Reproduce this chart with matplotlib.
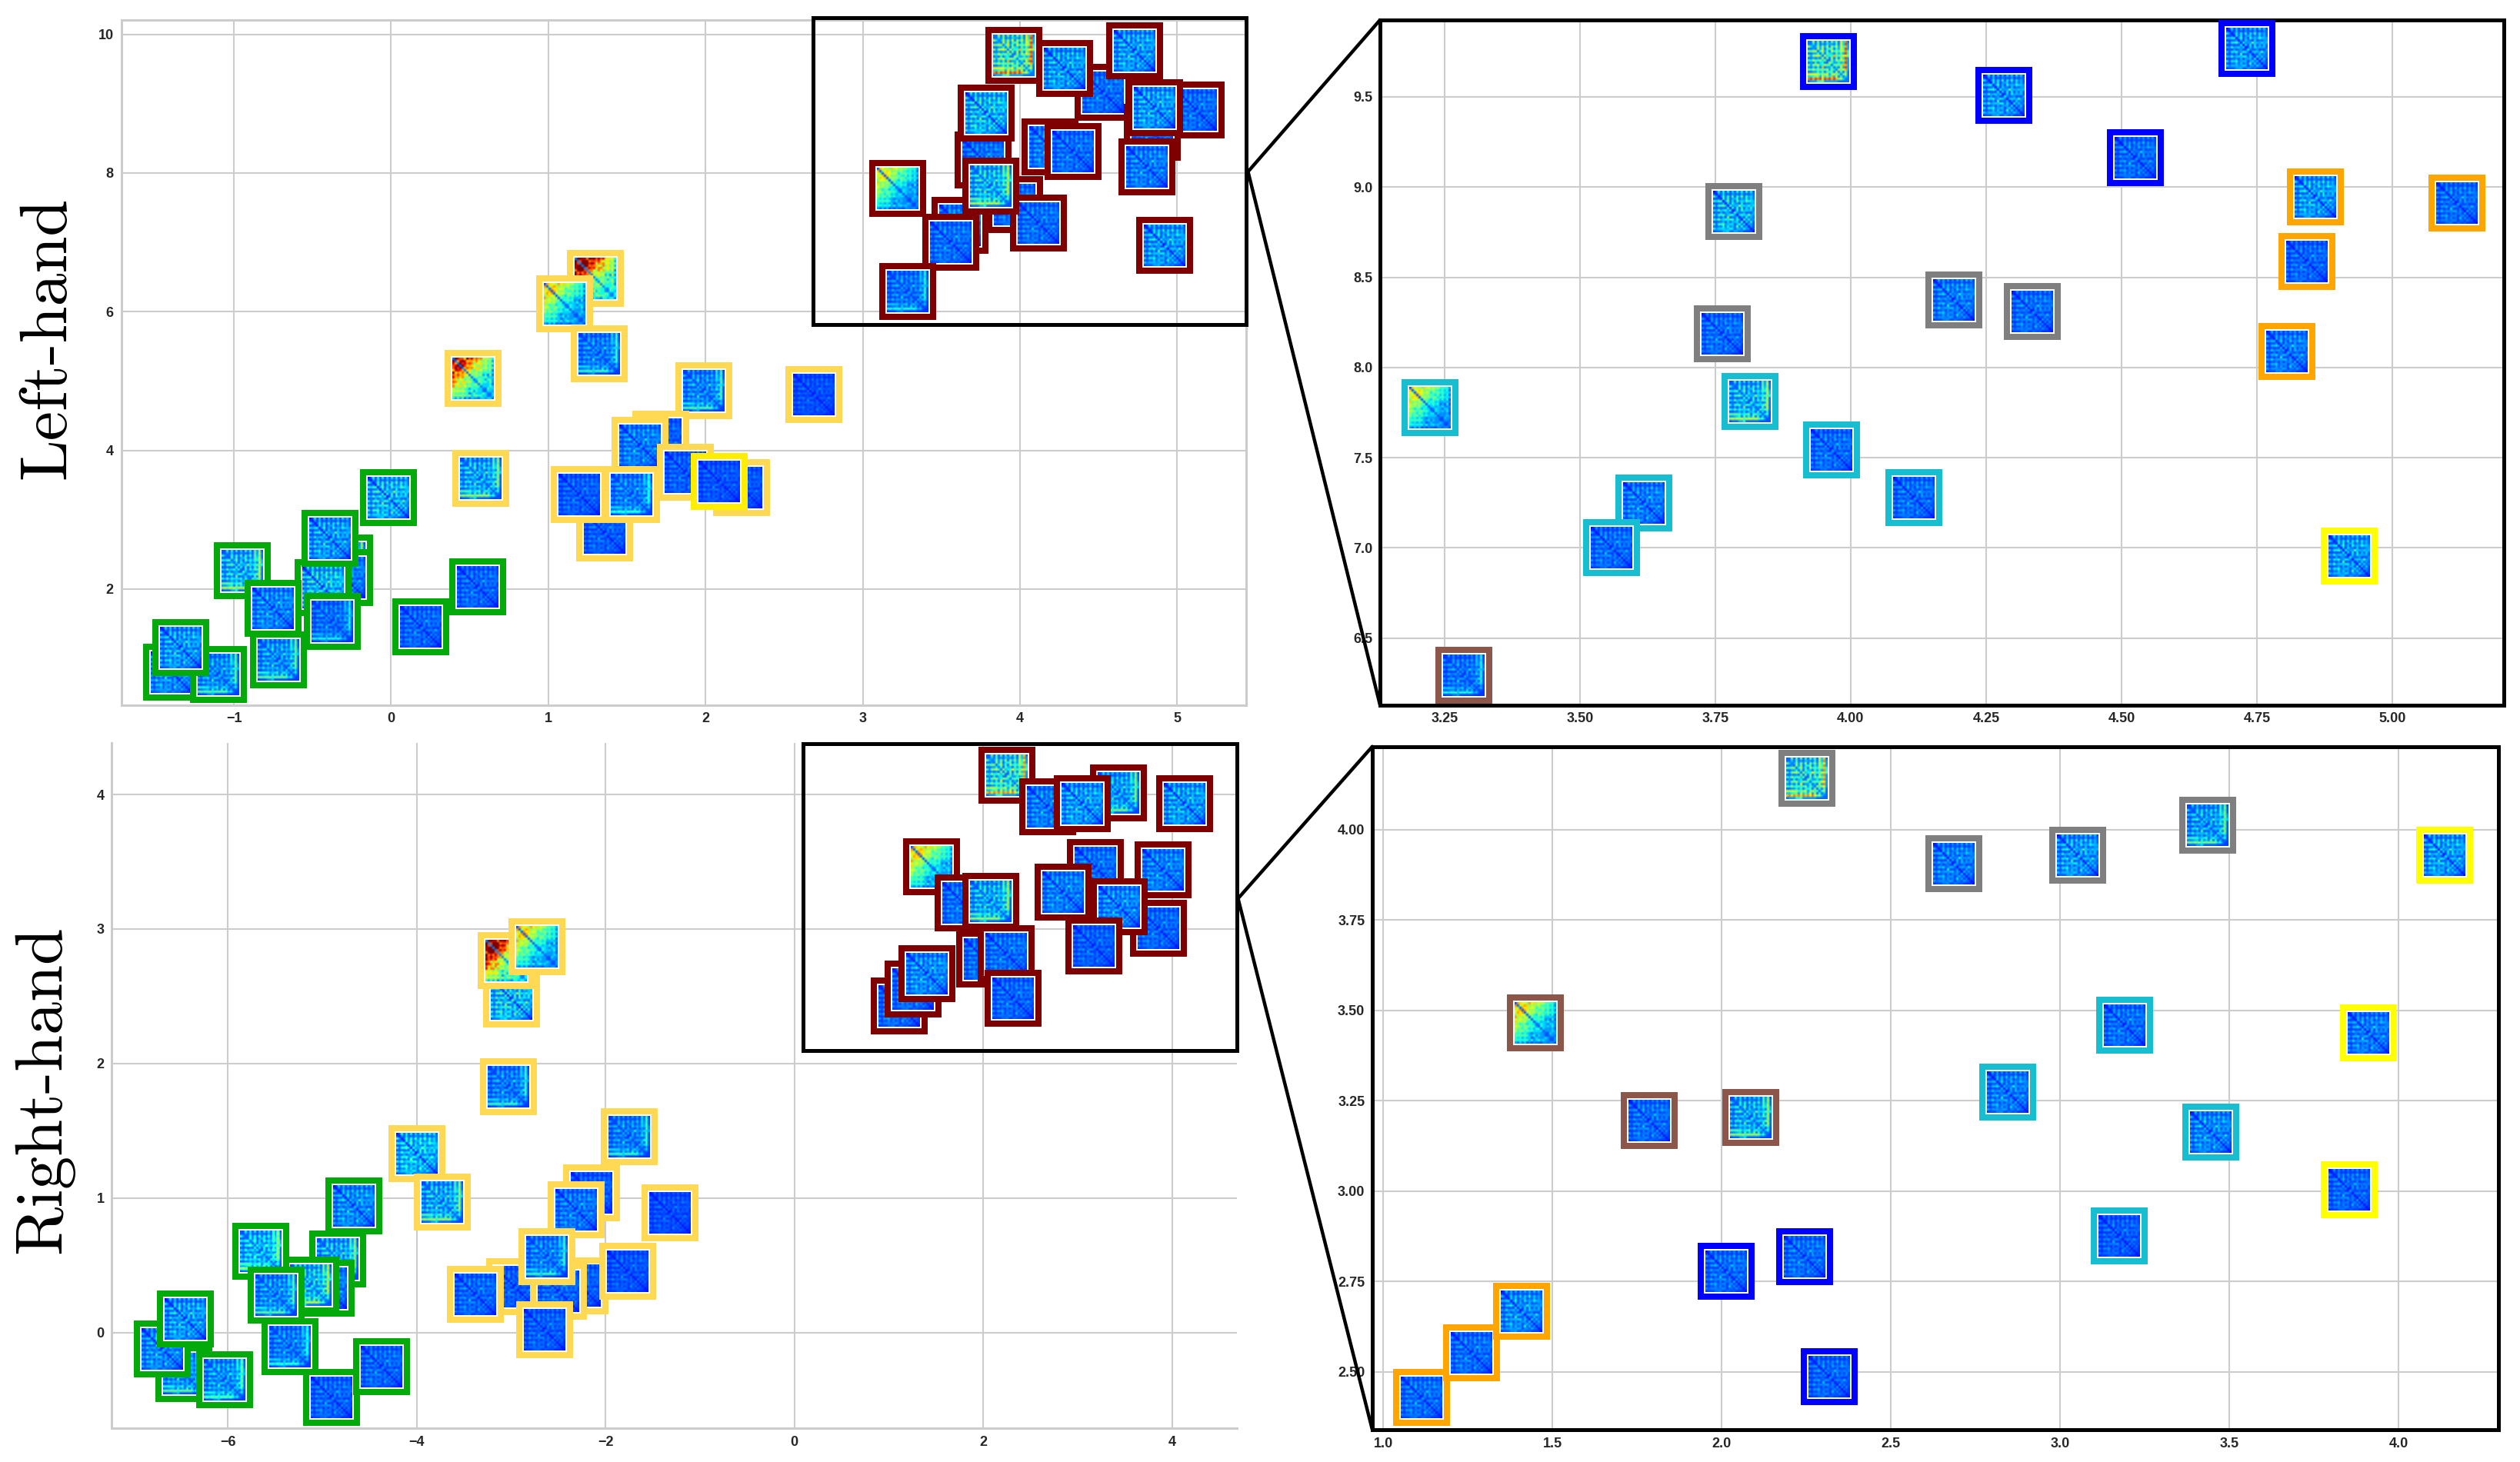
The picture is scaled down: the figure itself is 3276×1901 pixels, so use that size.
#!/usr/bin/env python3
"""Left/right-hand embedding scatter with connectivity-matrix thumbnails."""
import numpy as np
import matplotlib
matplotlib.use("Agg")
import matplotlib.pyplot as plt
from matplotlib.colors import Normalize
from matplotlib.offsetbox import AnnotationBbox, OffsetImage
from matplotlib.patches import ConnectionPatch, Rectangle

W, H = 3276, 1901

# thumbnail textures, typed by hand (digit = brightness)
TEX_GRID = [
    "014131413141314131", "102141213121412131", "420151315131513141",
    "112042614261426152", "423401412141214131", "112140316131613142",
    "315263041414131415", "112121403171715262", "314141340141413131",
    "121313111402141213", "315151413402141412", "213141712140316241",
    "415141514261041413", "112141314121402141", "415151413141240131",
    "213262314161314021", "412131413141231201", "122143112222111110",
]
TEX_CORNER = [
    "114131413141315261", "112141213121416371", "421151315131414261",
    "112142614261425372", "423411412141314161", "112141316131513172",
    "315263141414131516", "112121413171514372", "314141341141413161",
    "121313111412141371", "315151413412141461", "213141712141316271",
    "415141514261141352", "112142314121412141", "536453647263541231",
    "213362516171614121", "675767876757636211", "122143112222111111",
]
TEX_TOP = [
    "198786978675746353", "916898567675345342", "861979687365746353",
    "789198576563645242", "698916767365346353", "587761565254534241",
    "967676153543534242", "767565514343523141", "856563441343423232",
    "654564343124232342", "765256453213423241", "745464342341313131",
    "654545232423123242", "534243213233211312", "343434124131111232",
    "534343412323232112", "342424141232231112", "213131212121221221",
]

# Left-hand, main panel
lh_green_x = [-1.397, -1.10, -1.34, -0.716, -0.294, -0.294, -0.435, -0.388, -0.947, -0.753, -0.372, 0.19, 0.549, -0.017]
lh_green_y = [0.798, 0.77, 1.158, 0.975, 2.373, 2.17, 2.02, 2.733, 2.265, 1.72, 1.53, 1.45, 2.03, 3.317]
lh_green_heat = [0.4, 0.4, 0.45, 0.42, 0.5, 0.35, 0.55, 0.45, 0.55, 0.38, 0.3, 0.28, 0.28, 0.55]
lh_green_tex = [0, 1, 0, 1, 1, 0, 0, 0, 1, 0, 1, 0, 0, 0]

lh_gold_x = [1.298, 1.101, 1.326, 0.52, 0.57, 1.99, 1.713, 1.585, 1.872, 2.69, 2.228, 2.085, 1.36, 1.198, 1.529]
lh_gold_y = [6.475, 6.115, 5.389, 5.04, 3.60, 4.866, 4.166, 4.07, 3.684, 4.81, 3.467, 3.555, 2.81, 3.358, 3.358]
lh_gold_heat = [0.95, 0.55, 0.35, 0.8, 0.5, 0.38, 0.25, 0.35, 0.25, 0.2, 0.22, 0.22, 0.25, 0.25, 0.35]
lh_gold_tex = [2, 2, 1, 2, 1, 1, 0, 0, 0, 0, 0, 0, 0, 0, 1]
lh_gold_color = ["#ffd954"] * 11 + ["#ffee00"] + ["#ffd954"] * 3

# Left-hand, zoomed cluster (drawn in dark red on the main panel)
lh_blue_x = [4.526, 3.959, 4.283, 4.731]
lh_blue_y = [9.161, 9.696, 9.509, 9.768]
lh_blue_heat = [0.3, 0.85, 0.45, 0.45]
lh_blue_tex = [0, 1, 0, 0]
lh_orange_x = [5.119, 4.843, 4.858, 4.805]
lh_orange_y = [8.911, 8.589, 8.946, 8.089]
lh_orange_heat = [0.3, 0.28, 0.45, 0.35]
lh_orange_tex = [0, 0, 0, 0]
lh_gray_x = [3.763, 3.784, 4.191, 4.336]
lh_gray_y = [8.188, 8.866, 8.375, 8.312]
lh_gray_heat = [0.3, 0.55, 0.35, 0.3]
lh_gray_tex = [0, 0, 0, 0]
lh_cyan_x = [3.618, 3.559, 3.965, 4.116, 3.814, 3.223]
lh_cyan_y = [7.25, 7.0, 7.545, 7.277, 7.812, 7.777]
lh_cyan_heat = [0.35, 0.3, 0.3, 0.3, 0.55, 0.5]
lh_cyan_tex = [0, 0, 0, 0, 1, 2]
lh_other_x = [4.921, 3.286]
lh_other_y = [6.955, 6.295]
lh_other_heat = [0.45, 0.32]
lh_other_tex = [0, 1]

# Right-hand, main panel
rh_green_x = [-6.462, -6.036, -6.691, -6.452, -4.836, -4.96, -5.117, -5.647, -5.486, -5.34, -4.904, -4.374, -4.665]
rh_green_y = [-0.301, -0.35, -0.122, 0.101, 0.546, 0.332, 0.354, 0.605, 0.28, -0.105, -0.483, -0.252, 0.941]
rh_green_heat = [0.42, 0.42, 0.4, 0.45, 0.5, 0.35, 0.55, 0.55, 0.4, 0.35, 0.28, 0.28, 0.4]
rh_green_tex = [1, 1, 0, 0, 1, 0, 1, 1, 1, 1, 0, 0, 0]

rh_gold_x = [-2.997, -3.055, -2.727, -3.029, -3.995, -3.73, -1.75, -2.146, -2.306, -1.32, -2.27, -2.96, -2.50, -3.38, -1.76, -2.62, -2.645]
rh_gold_y = [2.478, 2.765, 2.866, 1.827, 1.33, 0.973, 1.456, 1.039, 0.913, 0.892, 0.35, 0.343, 0.31, 0.283, 0.455, 0.567, 0.02]
rh_gold_heat = [0.6, 0.95, 0.55, 0.35, 0.55, 0.5, 0.35, 0.25, 0.33, 0.2, 0.25, 0.25, 0.28, 0.28, 0.22, 0.35, 0.25]
rh_gold_tex = [0, 2, 2, 1, 0, 1, 1, 0, 0, 0, 0, 0, 0, 0, 0, 1, 0]

# Right-hand, zoomed cluster
rh_blue_x = [2.014, 2.246, 2.318]
rh_blue_y = [2.779, 2.819, 2.487]
rh_blue_heat = [0.3, 0.3, 0.28]
rh_blue_tex = [0, 0, 0]
rh_orange_x = [1.114, 1.261, 1.408]
rh_orange_y = [2.429, 2.553, 2.668]
rh_orange_heat = [0.3, 0.3, 0.4]
rh_orange_tex = [0, 0, 0]
rh_gray_x = [2.251, 3.436, 2.687, 3.052]
rh_gray_y = [4.142, 4.013, 3.907, 3.929]
rh_gray_heat = [0.75, 0.45, 0.35, 0.45]
rh_gray_tex = [1, 1, 0, 0]
rh_yellow_x = [4.137, 3.91, 3.853]
rh_yellow_y = [3.929, 3.438, 3.004]
rh_yellow_heat = [0.45, 0.35, 0.28]
rh_yellow_tex = [0, 0, 0]
rh_brown_x = [1.45, 1.787, 2.085]
rh_brown_y = [3.465, 3.195, 3.204]
rh_brown_heat = [0.55, 0.3, 0.5]
rh_brown_tex = [2, 0, 1]
rh_cyan_x = [3.19, 2.844, 3.445, 3.175]
rh_cyan_y = [3.46, 3.274, 3.164, 2.876]
rh_cyan_heat = [0.3, 0.35, 0.38, 0.25]
rh_cyan_tex = [0, 0, 0, 0]

# ticks
lh_xticks = [-1, 0, 1, 2, 3, 4, 5]
lh_yticks = [2, 4, 6, 8, 10]
rh_xticks = [-6, -4, -2, 0, 2, 4]
rh_yticks = [0, 1, 2, 3, 4]
lhz_xticks = [3.25, 3.5, 3.75, 4.0, 4.25, 4.5, 4.75, 5.0]
lhz_yticks = [6.5, 7.0, 7.5, 8.0, 8.5, 9.0, 9.5]
rhz_xticks = [1.0, 1.5, 2.0, 2.5, 3.0, 3.5, 4.0]
rhz_yticks = [2.5, 2.75, 3.0, 3.25, 3.5, 3.75, 4.0]

plt.rcParams["font.family"] = ["Liberation Sans", "DejaVu Sans"]
textures = []
for tex in (TEX_GRID, TEX_CORNER, TEX_TOP):
    m = np.array([[int(c) for c in row] for row in tex], dtype=float)
    textures.append((m + m.T) / 2)
norm = Normalize(0, 1)


def make_axes(fig, left, top, right, bottom, xlim, ylim, xticks, yticks, xfmt, yfmt, zoomed=False):
    ax = fig.add_axes([left / W, 1 - bottom / H, (right - left) / W, (bottom - top) / H])
    ax.set_xlim(*xlim)
    ax.set_ylim(*ylim)
    ax.set_xticks(xticks, [xfmt.format(t).replace("-", "\u2212") for t in xticks])
    ax.set_yticks(yticks, [yfmt.format(t).replace("-", "\u2212") for t in yticks])
    ax.grid(True, color="#cccccc", lw=1.5)
    ax.set_axisbelow(True)
    ax.tick_params(length=0, pad=7, labelsize=13, labelcolor="#262626")
    for lab in ax.get_xticklabels() + ax.get_yticklabels():
        lab.set_fontweight("bold")
    for spine in ax.spines.values():
        spine.set_color("black" if zoomed else "#cccccc")
        spine.set_linewidth(3.6 if zoomed else 2.2)
    return ax


def draw_thumbs(ax, xs, ys, heats, texs, colors):
    if isinstance(colors, str):
        colors = [colors] * len(xs)
    for x, y, heat, t, c in zip(xs, ys, heats, texs, colors):
        img = 0.14 + textures[t] / 9 * heat * 1.1
        box = OffsetImage(img, zoom=3, cmap="jet", norm=norm, interpolation="bilinear", dpi_cor=False)
        ab = AnnotationBbox(box, (x, y), xycoords="data", frameon=True, pad=0.432, fontsize=10,
                            annotation_clip=False,
                            bboxprops=dict(edgecolor=c, facecolor="white", linewidth=5.76))
        ax.add_artist(ab)


fig = plt.figure(figsize=(W / 100, H / 100), dpi=100, facecolor="white")

ax_lh = make_axes(fig, 157.5, 26.3, 1620, 916.7, (-1.717, 5.438), (0.327, 10.204), lh_xticks, lh_yticks, "{:d}", "{:d}")
ax_lhz = make_axes(fig, 1794, 26, 3255, 916.7, (3.131, 5.206), (6.129, 9.926), lhz_xticks, lhz_yticks, "{:.2f}", "{:.1f}", zoomed=True)
ax_rh = make_axes(fig, 145.4, 966, 1608, 1857, (-7.227, 4.688), (-0.709, 4.383), rh_xticks, rh_yticks, "{:d}", "{:d}")
ax_rhz = make_axes(fig, 1784, 970.7, 3248, 1859, (0.968, 4.295), (2.34, 4.23), rhz_xticks, rhz_yticks, "{:.1f}", "{:.2f}", zoomed=True)
ax_rh.spines["top"].set_visible(False)
ax_rh.spines["right"].set_visible(False)

GREEN = "#04a90b"
GOLD = "#ffd954"
DARKRED = "#7f0000"

draw_thumbs(ax_lh, lh_green_x, lh_green_y, lh_green_heat, lh_green_tex, GREEN)
draw_thumbs(ax_lh, lh_gold_x, lh_gold_y, lh_gold_heat, lh_gold_tex, lh_gold_color)
draw_thumbs(ax_rh, rh_green_x, rh_green_y, rh_green_heat, rh_green_tex, GREEN)
draw_thumbs(ax_rh, rh_gold_x, rh_gold_y, rh_gold_heat, rh_gold_tex, GOLD)

lh_groups = [
    (lh_blue_x, lh_blue_y, lh_blue_heat, lh_blue_tex, "#0000ff"),
    (lh_orange_x, lh_orange_y, lh_orange_heat, lh_orange_tex, "#ffa500"),
    (lh_gray_x, lh_gray_y, lh_gray_heat, lh_gray_tex, "#7f7f7f"),
    (lh_cyan_x, lh_cyan_y, lh_cyan_heat, lh_cyan_tex, "#17becf"),
    (lh_other_x, lh_other_y, lh_other_heat, lh_other_tex, ["#ffff00", "#8c564b"]),
]
rh_groups = [
    (rh_gray_x, rh_gray_y, rh_gray_heat, rh_gray_tex, "#7f7f7f"),
    (rh_yellow_x, rh_yellow_y, rh_yellow_heat, rh_yellow_tex, "#ffff00"),
    (rh_brown_x, rh_brown_y, rh_brown_heat, rh_brown_tex, "#8c564b"),
    (rh_cyan_x, rh_cyan_y, rh_cyan_heat, rh_cyan_tex, "#17becf"),
    (rh_blue_x, rh_blue_y, rh_blue_heat, rh_blue_tex, "#0000ff"),
    (rh_orange_x, rh_orange_y, rh_orange_heat, rh_orange_tex, "#ffa500"),
]
for xs, ys, heats, texs, col in lh_groups:
    draw_thumbs(ax_lhz, xs, ys, heats, texs, col)
    draw_thumbs(ax_lh, xs, ys, heats, texs, DARKRED)
for xs, ys, heats, texs, col in rh_groups:
    draw_thumbs(ax_rhz, xs, ys, heats, texs, col)
    draw_thumbs(ax_rh, xs, ys, heats, texs, DARKRED)

# boxes round the zoomed clusters and the lines to their panels
ax_lh.add_patch(Rectangle((2.682, 5.81), 5.44 - 2.682, 10.24 - 5.81, fill=False, ec="black", lw=3.6, clip_on=False, zorder=10))
ax_rh.add_patch(Rectangle((0.094, 2.097), 4.69 - 0.094, 4.379 - 2.097, fill=False, ec="black", lw=3.6, clip_on=False, zorder=10))
for ax_a, pt, ax_b in ((ax_lh, (5.45, 8.02), ax_lhz), (ax_rh, (4.70, 3.227), ax_rhz)):
    x0, x1 = ax_b.get_xlim()
    y0, y1 = ax_b.get_ylim()
    for corner in ((x0, y1), (x0, y0)):
        fig.add_artist(ConnectionPatch(xyA=pt, coordsA=ax_a.transData, xyB=corner, coordsB=ax_b.transData, color="black", lw=3.2))

fig.text(63 / W, 1 - 439 / H, "Left-hand", rotation=90, ha="center", va="center", family="cmr10", fontsize=62, color="black")
fig.text(57 / W, 1 - 1417 / H, "Right-hand", rotation=90, ha="center", va="center", family="cmr10", fontsize=62, color="black")

fig.savefig("out.png", dpi=100, facecolor="white")
